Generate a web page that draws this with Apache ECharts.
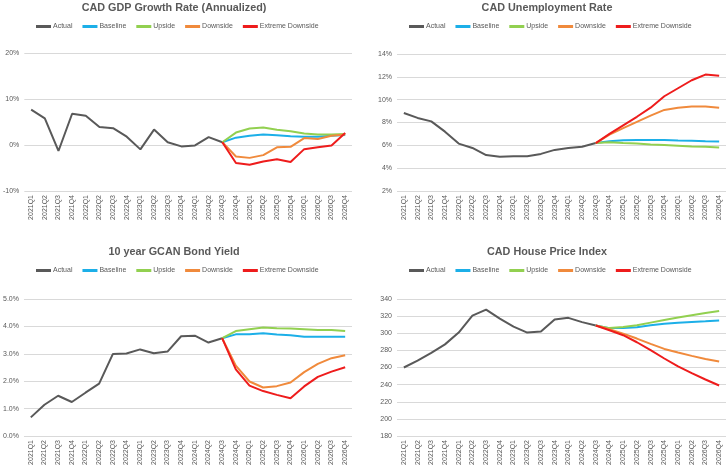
<!DOCTYPE html>
<html>
<head>
<meta charset="utf-8">
<script src="https://cdn.jsdelivr.net/npm/echarts@6/dist/echarts.min.js"></script>
<style>html,body{margin:0;padding:0;background:#fff}#c{width:728px;height:469px}</style>
</head>
<body>
<div id="c"></div>
<script>
var categories = ['2021Q1','2021Q2','2021Q3','2021Q4','2022Q1','2022Q2','2022Q3','2022Q4','2023Q1','2023Q2','2023Q3','2023Q4','2024Q1','2024Q2','2024Q3','2024Q4','2025Q1','2025Q2','2025Q3','2025Q4','2026Q1','2026Q2','2026Q3','2026Q4'];
var seriesNames = ['Actual','Baseline','Upside','Downside','Extreme Downside'];
var titles = ['CAD GDP Growth Rate (Annualized)','CAD Unemployment Rate','10 year GCAN Bond Yield','CAD House Price Index'];
var N = null;
// GDP growth (%)
var gdpActual   = [7.7,5.8,-1.3,6.8,6.35,3.9,3.65,1.8,-0.95,3.35,0.6,-0.3,-0.1,1.7,0.6,N,N,N,N,N,N,N,N,N];
var gdpBaseline = [N,N,N,N,N,N,N,N,N,N,N,N,N,N,0.6,1.6,2.0,2.3,2.1,1.9,1.8,1.8,2.0,2.2];
var gdpUpside   = [N,N,N,N,N,N,N,N,N,N,N,N,N,N,0.6,2.7,3.6,3.8,3.3,3.0,2.5,2.3,2.3,2.4];
var gdpDownside = [N,N,N,N,N,N,N,N,N,N,N,N,N,N,0.6,-2.5,-2.8,-2.2,-0.5,-0.4,1.5,1.3,2.0,2.3];
var gdpExtreme  = [N,N,N,N,N,N,N,N,N,N,N,N,N,N,0.6,-3.9,-4.3,-3.6,-3.1,-3.7,-0.9,-0.5,-0.1,2.6];
// Unemployment (%)
var unActual   = [8.83,8.4,8.1,7.2,6.15,5.77,5.15,5.0,5.05,5.05,5.25,5.6,5.77,5.88,6.2,N,N,N,N,N,N,N,N,N];
var unBaseline = [N,N,N,N,N,N,N,N,N,N,N,N,N,N,6.2,6.35,6.45,6.47,6.47,6.47,6.42,6.4,6.36,6.33];
var unUpside   = [N,N,N,N,N,N,N,N,N,N,N,N,N,N,6.2,6.27,6.2,6.15,6.08,6.03,5.97,5.9,5.88,5.82];
var unDownside = [N,N,N,N,N,N,N,N,N,N,N,N,N,N,6.2,6.93,7.5,8.05,8.6,9.1,9.3,9.4,9.4,9.3];
var unExtreme  = [N,N,N,N,N,N,N,N,N,N,N,N,N,N,6.2,7.0,7.75,8.5,9.3,10.3,11.0,11.7,12.2,12.1];
// Bond yield (%)
var byActual   = [0.68,1.14,1.47,1.24,1.58,1.91,2.99,3.01,3.16,3.02,3.08,3.64,3.66,3.41,3.57,N,N,N,N,N,N,N,N,N];
var byBaseline = [N,N,N,N,N,N,N,N,N,N,N,N,N,N,3.57,3.71,3.71,3.75,3.70,3.68,3.62,3.62,3.62,3.62];
var byUpside   = [N,N,N,N,N,N,N,N,N,N,N,N,N,N,3.57,3.83,3.90,3.96,3.93,3.92,3.90,3.87,3.87,3.83];
var byDownside = [N,N,N,N,N,N,N,N,N,N,N,N,N,N,3.57,2.57,1.99,1.77,1.82,1.95,2.33,2.63,2.84,2.95];
var byExtreme  = [N,N,N,N,N,N,N,N,N,N,N,N,N,N,3.57,2.43,1.84,1.64,1.50,1.38,1.81,2.16,2.35,2.51];
// House price index
var hpActual   = [260,268,277,287,300.8,320.6,327.6,317,307.8,300.8,302,316,318,313,309,N,N,N,N,N,N,N,N,N];
var hpBaseline = [N,N,N,N,N,N,N,N,N,N,N,N,N,N,309,306,306,307,309.3,311,312.4,313.2,314,315];
var hpUpside   = [N,N,N,N,N,N,N,N,N,N,N,N,N,N,309,306,307.4,309.3,312.4,315.5,318.3,321,323.7,326];
var hpDownside = [N,N,N,N,N,N,N,N,N,N,N,N,N,N,309,304.7,299.6,293.8,287.6,281.7,277.5,273.6,270,267];
var hpExtreme  = [N,N,N,N,N,N,N,N,N,N,N,N,N,N,309,303.5,297.7,289.5,280.2,270.5,261.2,253.4,246,239];

var yTicksGdp = {min:-10,max:20,interval:10,fmt:function(v){return v+'%';}};
var yTicksUn  = {min:2,max:14,interval:2,fmt:function(v){return v+'%';}};
var yTicksBy  = {min:0,max:5,interval:1,fmt:function(v){return v.toFixed(1)+'%';}};
var yTicksHp  = {min:180,max:340,interval:20,fmt:function(v){return String(v);}};

var colors = ['#595959','#1CAFE8','#92D050','#F08A3C','#EE1C1C'];
var panels = [
  {data:[gdpActual,gdpBaseline,gdpUpside,gdpDownside,gdpExtreme], y:yTicksGdp},
  {data:[unActual,unBaseline,unUpside,unDownside,unExtreme], y:yTicksUn},
  {data:[byActual,byBaseline,byUpside,byDownside,byExtreme], y:yTicksBy},
  {data:[hpActual,hpBaseline,hpUpside,hpDownside,hpExtreme], y:yTicksHp}
];
var grids = [
  {left:24,right:376,top:53,bottom:278},
  {left:397,right:2,top:54,bottom:278},
  {left:23,right:376,top:299,bottom:33},
  {left:397,right:2,top:299,bottom:33}
];
var titlePos = [{x:174,y:3},{x:547,y:3},{x:174,y:247},{x:547,y:247}];
var legendPos = [{x:31,y:18},{x:404,y:18},{x:31,y:262},{x:404,y:262}];
var font = 'Liberation Sans, Arial, sans-serif';

var option = {
  animation:false,
  color:colors,
  title:[], legend:[], grid:[], xAxis:[], yAxis:[], series:[]
};
panels.forEach(function(p,i){
  option.title.push({text:titles[i],left:titlePos[i].x,top:titlePos[i].y,textAlign:'center',padding:0,
    textStyle:{fontFamily:font,fontSize:10.8,fontWeight:'bold',color:'#595959'}});
  option.legend.push({data:seriesNames,left:legendPos[i].x,top:legendPos[i].y,
    itemWidth:15,itemHeight:3,itemGap:10,
    textStyle:{fontFamily:font,fontSize:7,color:'#595959',padding:[0,0,0,-3]},
    icon:'rect'});
  option.grid.push(grids[i]);
  option.xAxis.push({type:'category',gridIndex:i,data:categories,boundaryGap:true,
    axisLine:{show:false},axisTick:{show:false},
    axisLabel:{rotate:90,fontSize:7,color:'#595959',fontFamily:font,margin:4,interval:0}});
  option.yAxis.push({type:'value',gridIndex:i,min:p.y.min,max:p.y.max,interval:p.y.interval,
    axisLine:{show:false},axisTick:{show:false},
    axisLabel:{formatter:p.y.fmt,fontSize:7,color:'#595959',fontFamily:font,margin:5},
    splitLine:{lineStyle:{color:'#D9D9D9',width:1}}});
  p.data.forEach(function(d,k){
    option.series.push({type:'line',name:seriesNames[k],xAxisIndex:i,yAxisIndex:i,data:d,
      symbol:'none',connectNulls:false,lineStyle:{width:2,color:colors[k]},itemStyle:{color:colors[k]}});
  });
});
var chart = echarts.init(document.getElementById('c'));
chart.setOption(option);
</script>
</body>
</html>
